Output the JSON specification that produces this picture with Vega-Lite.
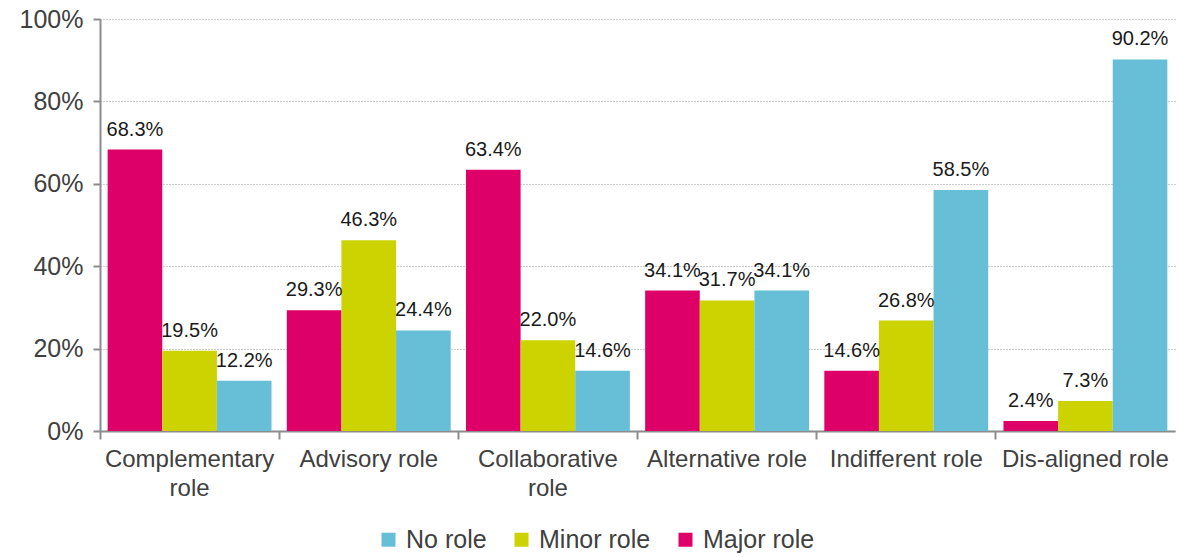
{
  "$schema": "https://vega.github.io/schema/vega-lite/v6.json",
  "autosize": "none",
  "width": 1075,
  "height": 412,
  "padding": {"left": 100, "top": 19, "right": 4, "bottom": 126},
  "background": "white",
  "config": {
    "font": "Liberation Sans",
    "view": {"stroke": null}
  },
  "data": {
    "values": [
      {"group": "Complementary role", "role": "Major role", "value": 0.683},
      {"group": "Complementary role", "role": "Minor role", "value": 0.195},
      {"group": "Complementary role", "role": "No role", "value": 0.122},
      {"group": "Advisory role", "role": "Major role", "value": 0.293},
      {"group": "Advisory role", "role": "Minor role", "value": 0.463},
      {"group": "Advisory role", "role": "No role", "value": 0.244},
      {"group": "Collaborative role", "role": "Major role", "value": 0.634},
      {"group": "Collaborative role", "role": "Minor role", "value": 0.220},
      {"group": "Collaborative role", "role": "No role", "value": 0.146},
      {"group": "Alternative role", "role": "Major role", "value": 0.341},
      {"group": "Alternative role", "role": "Minor role", "value": 0.317},
      {"group": "Alternative role", "role": "No role", "value": 0.341},
      {"group": "Indifferent role", "role": "Major role", "value": 0.146},
      {"group": "Indifferent role", "role": "Minor role", "value": 0.268},
      {"group": "Indifferent role", "role": "No role", "value": 0.585},
      {"group": "Dis-aligned role", "role": "Major role", "value": 0.024},
      {"group": "Dis-aligned role", "role": "Minor role", "value": 0.073},
      {"group": "Dis-aligned role", "role": "No role", "value": 0.902}
    ]
  },
  "encoding": {
    "x": {
      "field": "group",
      "type": "nominal",
      "sort": null,
      "scale": {"paddingInner": 0, "paddingOuter": 0},
      "axis": {
        "title": null,
        "labelAngle": 0,
        "labelFontSize": 24,
        "labelColor": "#404040",
        "labelPadding": 8,
        "labelLineHeight": 29,
        "labelExpr": "datum.label == 'Complementary role' ? ['Complementary', 'role'] : datum.label == 'Collaborative role' ? ['Collaborative', 'role'] : datum.label",
        "bandPosition": 0,
        "tickSize": 8,
        "tickColor": "#8c8c8c",
        "tickWidth": 2,
        "domainColor": "#8c8c8c",
        "domainWidth": 2,
        "grid": false
      }
    },
    "xOffset": {
      "field": "role",
      "type": "nominal",
      "sort": ["Major role", "Minor role", "No role"],
      "scale": {"paddingInner": 0, "paddingOuter": 0.14}
    },
    "y": {
      "field": "value",
      "type": "quantitative",
      "scale": {"domain": [0, 1]},
      "axis": {
        "title": null,
        "format": ".0%",
        "values": [0, 0.2, 0.4, 0.6, 0.8, 1],
        "labelOverlap": false,
        "labelFontSize": 25,
        "labelColor": "#404040",
        "labelPadding": 10,
        "tickSize": 7,
        "tickColor": "#8c8c8c",
        "tickWidth": 2,
        "domainColor": "#8c8c8c",
        "domainWidth": 2,
        "grid": true,
        "gridColor": "#9a9a9a",
        "gridDash": [1, 2],
        "gridWidth": 1
      }
    }
  },
  "layer": [
    {
      "mark": {"type": "bar"},
      "encoding": {
        "color": {
          "field": "role",
          "type": "nominal",
          "scale": {
            "domain": ["No role", "Minor role", "Major role"],
            "range": ["#67BED7", "#CCD300", "#DE0068"]
          },
          "legend": {
            "title": null,
            "orient": "none",
            "direction": "horizontal",
            "legendX": 276,
            "legendY": 508,
            "symbolType": "square",
            "symbolSize": 196,
            "symbolStrokeWidth": 0,
            "labelFontSize": 25,
            "labelColor": "#404040",
            "labelOffset": 5,
            "columnPadding": 22
          }
        }
      }
    },
    {
      "mark": {"type": "text", "baseline": "bottom", "dy": -10, "fontSize": 20, "color": "#1a1a1a"},
      "encoding": {
        "text": {"field": "value", "type": "quantitative", "format": ".1%"}
      }
    }
  ]
}
